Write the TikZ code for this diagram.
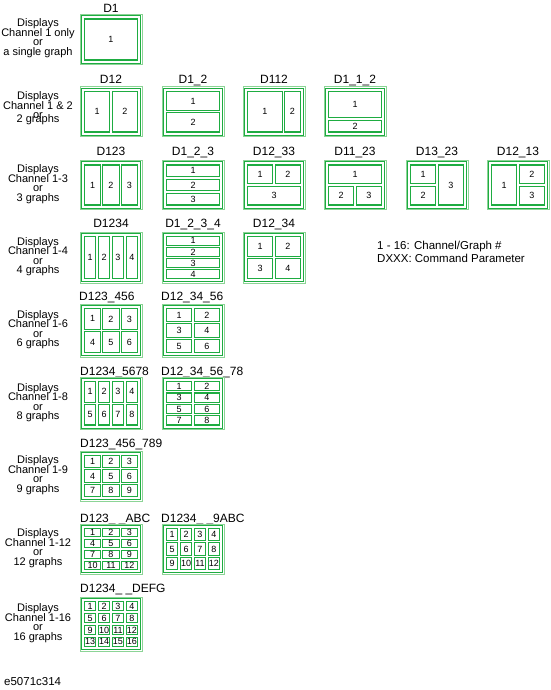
\documentclass[tikz,border=0pt]{standalone}
\usepackage{fontspec}
\setmainfont{Liberation Sans}
\definecolor{dg}{RGB}{30,172,65}
\definecolor{lg}{RGB}{140,212,150}
\tikzset{
 frameout/.style={draw=lg, line width=1pt},
 framein/.style={draw=dg, line width=0.9pt},
 cellbox/.style={draw=dg, line width=1.05pt},
 num/.style={font=\fontsize{9}{9}\selectfont, inner sep=0pt},
 ttl/.style={font=\fontsize{12}{12}\selectfont, inner sep=0pt, anchor=base},
 ttll/.style={font=\fontsize{12}{12}\selectfont, inner sep=0pt, anchor=base west},
 lbl/.style={font=\fontsize{11}{11}\selectfont, inner sep=0pt, anchor=base},
 leg/.style={font=\fontsize{11.5}{11.5}\selectfont, inner sep=0pt, anchor=base west},
}
\newcommand\gframe[4]{% id x y h
 \def\gid{#1}\def\gx{#2}\def\gy{#3}\def\gh{#4}%
 \draw[frameout] (#2,#3) rectangle ({#2+62},{#3+#4});
 \draw[framein] ({#2+1.1},{#3+1.1}) rectangle ({#2+60.9},{#3+#4-1.1});
}
\newcommand\gcell[5]{% fx0 fy0 fx1 fy1 label
 \draw[cellbox] ({\gx+4.5+(#1)*55.4},{\gy+4.5+(#2)*(\gh-6.6)}) rectangle ({\gx+2.1+(#3)*55.4},{\gy+2.1+(#4)*(\gh-6.6)});
 \node[num] (\gid-#5) at ({\gx+3.3+((#1)+(#3))*27.7},{\gy+3.3+((#2)+(#4))*(\gh-6.6)/2}) {#5};
}
\newcommand\ggrid[2]{% cols rows
 \foreach \r in {1,...,#2}{\foreach \c in {1,...,#1}{%
   \pgfmathtruncatemacro\k{(\r-1)*#1+\c}%
   \gcell{(\c-1)/#1}{(\r-1)/#2}{\c/#1}{\r/#2}{\k}
 }}}
\newcommand\lblock[6]{% id ycenter l1 l2 l3 l4
 \node[lbl] (#1a) at (38,{#2-12.5}) {#3};
 \node[lbl] (#1b) at (38,{#2-3}) {#4};
 \node[lbl] (#1c) at (38,{#2+6.5}) {#5};
 \node[lbl] (#1d) at (38,{#2+16}) {#6};
}
\begin{document}
\begin{tikzpicture}[x=1pt,y=-1pt]
\useasboundingbox (0,0) rectangle (550,690);
% Row 1
\lblock{L1}{39.5}{Displays}{Channel 1 only}{or}{a single graph}
\node[ttl] (tD1) at (111,12.7) {D1};
\gframe{D1}{80}{14.5}{50}\gcell{0}{0}{1}{1}{1}
% Row 2
\node[lbl] (L2a) at (38,100) {Displays};
\node[lbl] (L2b) at (38,110) {Channel 1 \& 2};
\node[lbl] (L2c) at (38,118) {or};
\node[lbl] (L2d) at (38,122) {2 graphs};
\node[ttl] (tD12) at (111,83.3) {D12};
\gframe{D12}{80}{87}{49.5}\gcell{0}{0}{.5}{1}{1}\gcell{.5}{0}{1}{1}{2}
\node[ttl] (tD1_2) at (193,83.3) {D1\_2};
\gframe{Da}{162}{87}{49.5}\gcell{0}{0}{1}{.5}{1}\gcell{0}{.5}{1}{1}{2}
\node[ttl] (tD112) at (274,83.3) {D112};
\gframe{Db}{243}{87}{49.5}\gcell{0}{0}{2/3}{1}{1}\gcell{2/3}{0}{1}{1}{2}
\node[ttl] (tD1_1_2) at (355,83.3) {D1\_1\_2};
\gframe{Dc}{324}{87}{49.5}\gcell{0}{0}{1}{2/3}{1}\gcell{0}{2/3}{1}{1}{2}
% Row 3
\lblock{L3}{185}{Displays}{Channel 1-3}{or}{3 graphs}
\node[ttl] (tD123) at (111,155) {D123};
\gframe{Dd}{80}{160.5}{49}\ggrid{3}{1}
\node[ttl] (tD1_2_3) at (193,155) {D1\_2\_3};
\gframe{De}{162}{160.5}{49}\ggrid{1}{3}
\node[ttl] (tD12_33) at (274,155) {D12\_33};
\gframe{Df}{243}{160.5}{49}\gcell{0}{0}{.5}{.5}{1}\gcell{.5}{0}{1}{.5}{2}\gcell{0}{.5}{1}{1}{3}
\node[ttl] (tD11_23) at (355,155) {D11\_23};
\gframe{Dg}{324}{160.5}{49}\gcell{0}{0}{1}{.5}{1}\gcell{0}{.5}{.5}{1}{2}\gcell{.5}{.5}{1}{1}{3}
\node[ttl] (tD13_23) at (437,155) {D13\_23};
\gframe{Dh}{406}{160.5}{49}\gcell{0}{0}{.5}{.5}{1}\gcell{0}{.5}{.5}{1}{2}\gcell{.5}{0}{1}{1}{3}
\node[ttl] (tD12_13) at (518,155) {D12\_13};
\gframe{Di}{487}{160.5}{49}\gcell{0}{0}{.5}{1}{1}\gcell{.5}{0}{1}{.5}{2}\gcell{.5}{.5}{1}{1}{3}
% Row 4
\lblock{L4}{257.5}{Displays}{Channel 1-4}{or}{4 graphs}
\node[ttl] (tD1234) at (111,227) {D1234};
\gframe{Dj}{80}{232}{51}\ggrid{4}{1}
\node[ttl] (tD1_2_3_4) at (193,227) {D1\_2\_3\_4};
\gframe{Dk}{162}{232}{51}\ggrid{1}{4}
\node[ttl] (tD12_34) at (274,227) {D12\_34};
\gframe{Dl}{243}{232}{51}\ggrid{2}{2}
\node[leg] (leg1) at (377,249.5) {1 - 16: Channel/Graph \#};
\node[leg] (leg2) at (377,262) {DXXX: Command Parameter};
% Row 5
\lblock{L5}{330.5}{Displays}{Channel 1-6}{or}{6 graphs}
\node[ttll] (tD123_456) at (79,300.5) {D123\_456};
\gframe{Dm}{80}{304}{53}\ggrid{3}{2}
\node[ttll] (tD12_34_56) at (161,300.5) {D12\_34\_56};
\gframe{Dn}{162}{304}{53}\ggrid{2}{3}
% Row 6
\lblock{L6}{403.5}{Displays}{Channel 1-8}{or}{8 graphs}
\node[ttll] (tD1234_5678) at (80,375) {D1234\_5678};
\gframe{Do}{80}{377}{52.5}\ggrid{4}{2}
\node[ttll] (tD12_34_56_78) at (161,375) {D12\_34\_56\_78};
\gframe{Dp}{162}{377}{52.5}\ggrid{2}{4}
% Row 7
\lblock{L7}{476}{Displays}{Channel 1-9}{or}{9 graphs}
\node[ttll] (tD123_456_789) at (80,447) {D123\_456\_789};
\gframe{Dq}{80}{451}{50}\ggrid{3}{3}
% Row 8
\lblock{L8}{549}{Displays}{Channel 1-12}{or}{12 graphs}
\node[ttll] (tD123ABC) at (80,522) {D123\_ \_ABC};
\gframe{Dr}{80}{524}{50}\ggrid{3}{4}
\node[ttll] (tD1234ABC) at (161,522) {D1234\_ \_9ABC};
\gframe{Ds}{162}{524}{50}\ggrid{4}{3}
% Row 9
\lblock{L9}{624}{Displays}{Channel 1-16}{or}{16 graphs}
\node[ttll] (tD1234DEFG) at (80,592) {D1234\_ \_DEFG};
\gframe{Dt}{80}{597}{54}\ggrid{4}{4}
% footer
\node[leg] (foot) at (4,685) {e5071c314};
\end{tikzpicture}
\end{document}
